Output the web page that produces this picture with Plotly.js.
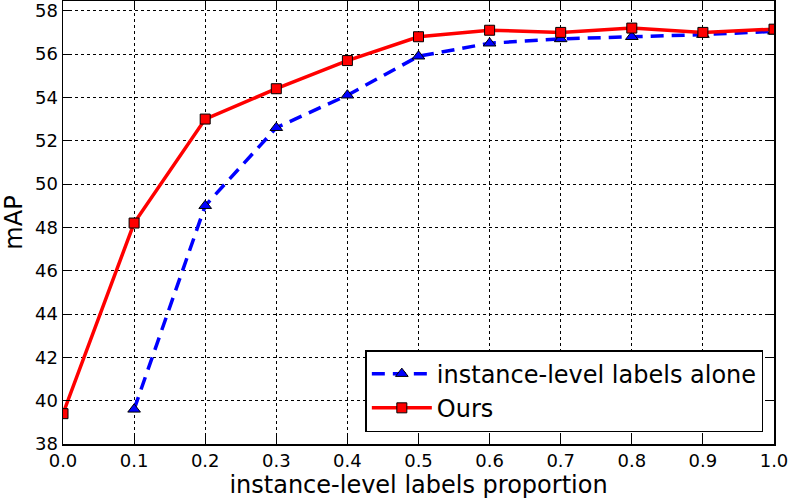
<!DOCTYPE html>
<html><head><meta charset="utf-8">
<script src="https://cdn.plot.ly/plotly-3.0.1.min.js"></script>
<style>html,body{margin:0;padding:0;background:#fff}</style>
</head><body><div id="chart" style="width:789px;height:502px"></div>
<script>
const proportions = [0.0, 0.1, 0.2, 0.3, 0.4, 0.5, 0.6, 0.7, 0.8, 0.9, 1.0];
const aloneX = [0.1, 0.2, 0.3, 0.4, 0.5, 0.6, 0.7, 0.8, 0.9, 1.0];
const aloneMAP = [39.6, 49.0, 52.6, 54.1, 55.9, 56.5, 56.7, 56.8, 56.9, 57.05];
const oursMAP = [39.4, 48.2, 53.0, 54.4, 55.7, 56.8, 57.1, 57.0, 57.2, 57.0, 57.15];
const xTicks = [0.0, 0.1, 0.2, 0.3, 0.4, 0.5, 0.6, 0.7, 0.8, 0.9, 1.0];
const xTickText = ['0.0','0.1','0.2','0.3','0.4','0.5','0.6','0.7','0.8','0.9','1.0'];
const yTicks = [38, 40, 42, 44, 46, 48, 50, 52, 54, 56, 58];

const font = 'DejaVu Sans, sans-serif';
const traces = [
  {x: aloneX, y: aloneMAP, name: 'instance-level labels alone', mode: 'lines+markers',
   line: {color: '#0000ff', width: 3.5, dash: '13px,8px'},
   marker: {symbol: 'triangle-up', size: 11, color: '#0000ff', line: {color: '#000', width: 1}}},
  {x: proportions, y: oursMAP, name: 'Ours', mode: 'lines+markers',
   line: {color: '#ff0000', width: 3.5},
   marker: {symbol: 'square', size: 10, color: '#ff0000', line: {color: '#000', width: 1}}}
];
const axisCommon = {
  showline: true, linecolor: '#000', linewidth: 1.5, mirror: 'allticks',
  ticks: 'inside', ticklen: 8, tickwidth: 1, tickcolor: '#000',
  showgrid: true, gridcolor: '#000', griddash: 'dot', gridwidth: 1,
  zeroline: false, tickfont: {family: font, size: 18, color: '#000'}
};
const layout = {
  width: 789, height: 502,
  margin: {l: 63, r: 15, t: 1, b: 58},
  paper_bgcolor: '#fff', plot_bgcolor: '#fff',
  font: {family: font, color: '#000'},
  xaxis: Object.assign({}, axisCommon, {
    range: [0, 1], tickvals: xTicks, ticktext: xTickText,
    title: {text: 'instance-level labels proportion', font: {family: font, size: 24, color: '#000'}, standoff: 4}
  }),
  yaxis: Object.assign({}, axisCommon, {
    range: [38, 58.45], tickvals: yTicks,
    title: {text: 'mAP', font: {family: font, size: 24, color: '#000'}, standoff: 6}
  }),
  legend: {x: 0.985, xanchor: 'right', y: 0.027, yanchor: 'bottom',
    bordercolor: '#000', borderwidth: 1.5, bgcolor: '#fff',
    font: {family: font, size: 24, color: '#000'}, itemwidth: 60, tracegroupgap: 4},
  showlegend: true
};
Plotly.newPlot('chart', traces, layout, {displayModeBar: false, staticPlot: true});
</script></body></html>
